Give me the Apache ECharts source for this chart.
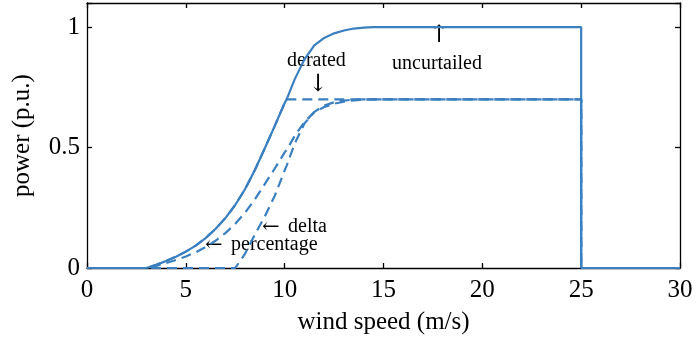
<!DOCTYPE html>
<html>
<head>
<meta charset="utf-8">
<script src="https://cdn.jsdelivr.net/npm/echarts@6/dist/echarts.min.js"></script>
<style>
  html, body { margin: 0; padding: 0; background: #fff; }
  #chart { width: 696px; height: 342px; }
</style>
</head>
<body>
<div id="chart"></div>
<script>
// wind speed samples (m/s)
var windSpeed   = [0, 3, 3.5, 4, 4.5, 5, 5.5, 6, 6.5, 7, 7.5, 7.6, 8, 8.5, 9, 9.5, 10, 10.1, 10.5, 11, 11.5, 12, 12.5, 13, 13.5, 14, 14.5, 15, 25, 25, 30];
// power (p.u.)
var uncurtailed = [0, 0, 0.013, 0.029, 0.047, 0.068, 0.093, 0.124, 0.162, 0.207, 0.262, 0.275, 0.328, 0.408, 0.498, 0.59, 0.685, 0.7, 0.782, 0.866, 0.924, 0.955, 0.974, 0.986, 0.994, 0.998, 1, 1, 1, 0, 0];
var derated     = [0, 0, 0.013, 0.029, 0.047, 0.068, 0.093, 0.124, 0.162, 0.207, 0.262, 0.275, 0.328, 0.408, 0.498, 0.59, 0.685, 0.7, 0.7, 0.7, 0.7, 0.7, 0.7, 0.7, 0.7, 0.7, 0.7, 0.7, 0.7, 0, 0];
var percentage  = [0, 0, 0.009, 0.02, 0.033, 0.048, 0.065, 0.087, 0.113, 0.145, 0.183, 0.193, 0.23, 0.286, 0.349, 0.413, 0.48, 0.49, 0.547, 0.606, 0.647, 0.668, 0.682, 0.69, 0.696, 0.699, 0.7, 0.7, 0.7, 0, 0];
var delta       = [0, 0, 0, 0, 0, 0, 0, 0, 0, 0, 0, 0, 0.06, 0.14, 0.215, 0.3, 0.405, 0.425, 0.515, 0.6, 0.648, 0.674, 0.688, 0.695, 0.699, 0.7, 0.7, 0.7, 0.7, 0, 0];
var xTicks = [0, 5, 10, 15, 20, 25, 30];
var yTicks = [0, 0.5, 1];

function pairs(ys) { return windSpeed.map(function (x, i) { return [x, ys[i]]; }); }

var blue = '#3a7fc0';
var serif = 'Liberation Serif';
var chart = echarts.init(document.getElementById('chart'));

function lineSeries(name, ys, dashed, z) {
  return {
    name: name, type: 'line', data: pairs(ys), showSymbol: false, clip: false,
    xAxisIndex: 0, yAxisIndex: 0, z: z,
    lineStyle: { color: blue, width: 2.2, type: dashed ? [10, 6] : 'solid' },
    animation: false
  };
}

var axisLine = { show: true, onZero: false, lineStyle: { color: '#000', width: 1.3 } };
var tickStyle = { show: true, inside: true, length: 5, lineStyle: { color: '#000', width: 1.3 } };

chart.setOption({
  backgroundColor: '#fff',
  animation: false,
  grid: { left: 87, right: 16, top: 3, bottom: 74 },
  xAxis: [
    { type: 'value', min: xTicks[0], max: xTicks[xTicks.length - 1], interval: 5, position: 'bottom',
      name: 'wind speed (m/s)', nameLocation: 'middle', nameGap: 42,
      nameTextStyle: { fontFamily: serif, fontSize: 25, color: '#000' },
      axisLine: axisLine, axisTick: tickStyle, splitLine: { show: false },
      axisLabel: { fontFamily: serif, fontSize: 25, color: '#000', margin: 10 } },
    { type: 'value', min: xTicks[0], max: xTicks[xTicks.length - 1], interval: 5, position: 'top',
      axisLine: axisLine, axisTick: tickStyle, splitLine: { show: false }, axisLabel: { show: false } }
  ],
  yAxis: [
    { type: 'value', min: 0, max: 1.1, interval: 0.5, position: 'left',
      name: 'power (p.u.)', nameLocation: 'middle', nameGap: 52,
      nameTextStyle: { fontFamily: serif, fontSize: 25, color: '#000' },
      axisLine: axisLine, axisTick: tickStyle, splitLine: { show: false },
      axisLabel: { fontFamily: serif, fontSize: 25, color: '#000', margin: 7,
        formatter: function (v) { var r = Math.round(v * 100) / 100; return yTicks.indexOf(r) >= 0 ? String(r) : ''; } } },
    { type: 'value', min: 0, max: 1.1, interval: 0.5, position: 'right',
      axisLine: axisLine, axisTick: tickStyle, splitLine: { show: false }, axisLabel: { show: false } }
  ],
  series: [
    lineSeries('derated', derated, true, 3),
    lineSeries('percentage', percentage, true, 3),
    lineSeries('delta', delta, true, 3),
    lineSeries('uncurtailed', uncurtailed, false, 4)
  ],
  graphic: [
    { type: 'text', left: 287, top: 51, style: { text: 'derated', font: '20px "Liberation Serif"', fill: '#000' } },
    { type: 'text', left: 308, top: 73, style: { text: '↓', font: '24px "DejaVu Serif"', fill: '#000' } },
    { type: 'text', left: 429, top: 24, style: { text: '↑', font: '24px "DejaVu Serif"', fill: '#000' } },
    { type: 'text', left: 392, top: 54, style: { text: 'uncurtailed', font: '20px "Liberation Serif"', fill: '#000' } },
    { type: 'text', left: 262, top: 217, style: { text: '←', font: '21px "DejaVu Serif"', fill: '#000' } },
    { type: 'text', left: 288, top: 217, style: { text: 'delta', font: '20px "Liberation Serif"', fill: '#000' } },
    { type: 'text', left: 205, top: 235, style: { text: '←', font: '21px "DejaVu Serif"', fill: '#000' } },
    { type: 'text', left: 231, top: 235, style: { text: 'percentage', font: '20px "Liberation Serif"', fill: '#000' } }
  ]
});
</script>
</body>
</html>
